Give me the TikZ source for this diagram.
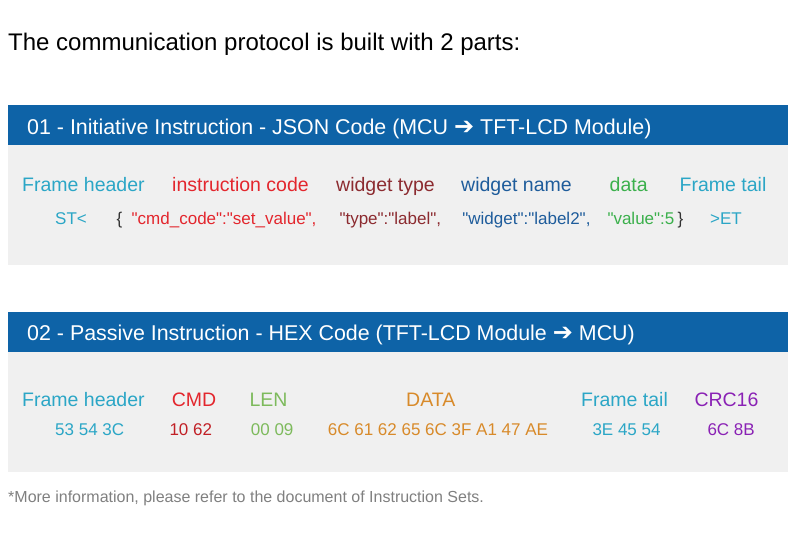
\documentclass[tikz,border=0pt]{standalone}
\usepackage{fontspec}
\setmainfont{Liberation Sans}
\newfontfamily\arrowfont{DejaVu Sans}
\usepackage{tikz}
\usetikzlibrary{calc}

\definecolor{headblue}{HTML}{0E63A7}
\definecolor{bodygray}{HTML}{F0F0F0}
\definecolor{fcyan}{HTML}{2BA6C6}
\definecolor{fred}{HTML}{E3262D}
\definecolor{fdarkred}{HTML}{8C2B30}
\definecolor{fblue}{HTML}{1E5C9B}
\definecolor{fgreen}{HTML}{3BB04C}
\definecolor{flgreen}{HTML}{7DBA5C}
\definecolor{forange}{HTML}{D88A2A}
\definecolor{fpurple}{HTML}{8A22B5}
\definecolor{fnote}{HTML}{808080}

\newcommand{\dq}{\textquotedbl}
\newcommand{\toarrow}{{\arrowfont\fontsize{24}{26}\selectfont ➔}}

\tikzset{
  txt/.style={anchor=base west,inner sep=0pt},
  lbl/.style={txt,font=\fontsize{19.5}{21}\selectfont},
  val/.style={txt,font=\fontsize{17}{19}\selectfont},
  headtxt/.style={txt,text=white,font=\fontsize{21.4}{23}\selectfont},
}

\begin{document}
\begin{tikzpicture}[x=1pt,y=-1pt]
        \useasboundingbox (0,0) rectangle (800,542);
        \fill[white] (0,0) rectangle (800,542);
        \node[txt,font=\fontsize{24}{26}\selectfont] (title) at (8,50.7) {The communication protocol is built with 2 parts:};

        % part 01 - JSON
        \fill[headblue] (8,105) rectangle (788,145);
        \fill[bodygray] (8,145) rectangle (788,265);
        \node[headtxt] (headA) at (27,134.3) {01 - Initiative Instruction - JSON Code (MCU \toarrow\ TFT-LCD Module)};

        \node[lbl,text=fcyan] (headerA) at (22,191.7) {Frame header};
        \node[lbl,text=fred] (instr) at (172,191.7) {instruction code};
        \node[lbl,text=fdarkred] (wtype) at (336,191.7) {widget type};
        \node[lbl,text=fblue] (wname) at (461,191.7) {widget name};
        \node[lbl,text=fgreen] (data) at (609.5,191.7) {data};
        \node[lbl,text=fcyan] (tailA) at (679.5,191.7) {Frame tail};

        \node[val,text=fcyan] (st) at (55,224.3) {ST<};
        \node[val,text=black!80] (lbrace) at (116.5,224.3) {\{};
        \node[val,text=fred] (cmdcode) at (131.5,224.3) {\dq cmd\_code\dq:\dq set\_value\dq,};
        \node[val,text=fdarkred] (typeval) at (339.3,224.3) {\dq type\dq:\dq label\dq,};
        \node[val,text=fblue] (widgetval) at (462.2,224.3) {\dq widget\dq:\dq label2\dq,};
        \node[val,text=fgreen] (valueval) at (607.3,224.3) {\dq value\dq:5};
        \node[val,text=black!80] (rbrace) at (677.5,224.3) {\}};
        \node[val,text=fcyan] (et) at (710,224.3) {>ET};

        % part 02 - HEX
        \fill[headblue] (8,312) rectangle (788,352);
        \fill[bodygray] (8,352) rectangle (788,472);
        \node[headtxt] (headB) at (27,340.7) {02 - Passive Instruction - HEX Code (TFT-LCD Module \toarrow\ MCU)};

        \node[lbl,text=fcyan] (headerB) at (22,406) {Frame header};
        \node[lbl,text=fred] (cmd) at (171.7,406) {CMD};
        \node[lbl,text=flgreen] (len) at (249.3,406) {LEN};
        \node[lbl,text=forange] (hexdata) at (406,406) {DATA};
        \node[lbl,text=fcyan] (tailB) at (581,406) {Frame tail};
        \node[lbl,text=fpurple] (crc) at (694.3,406) {CRC16};

        \node[val,text=fcyan] (hexhead) at (55,435.7) {53 54 3C};
        \node[val,text=fred!85!black] (hexcmd) at (169.3,435.7) {10 62};
        \node[val,text=flgreen] (hexlen) at (250.7,435.7) {00 09};
        \node[val,text=forange] (hexbytes) at (327.7,435.7) {6C 61 62 65 6C 3F A1 47 AE};
        \node[val,text=fcyan] (hextail) at (592.3,435.7) {3E 45 54};
        \node[val,text=fpurple] (hexcrc) at (707.3,435.7) {6C 8B};

        \node[txt,text=fnote,font=\fontsize{16}{18}\selectfont] (note) at (8,502.3) {*More information, please refer to the document of Instruction Sets.};
\end{tikzpicture}
\end{document}
